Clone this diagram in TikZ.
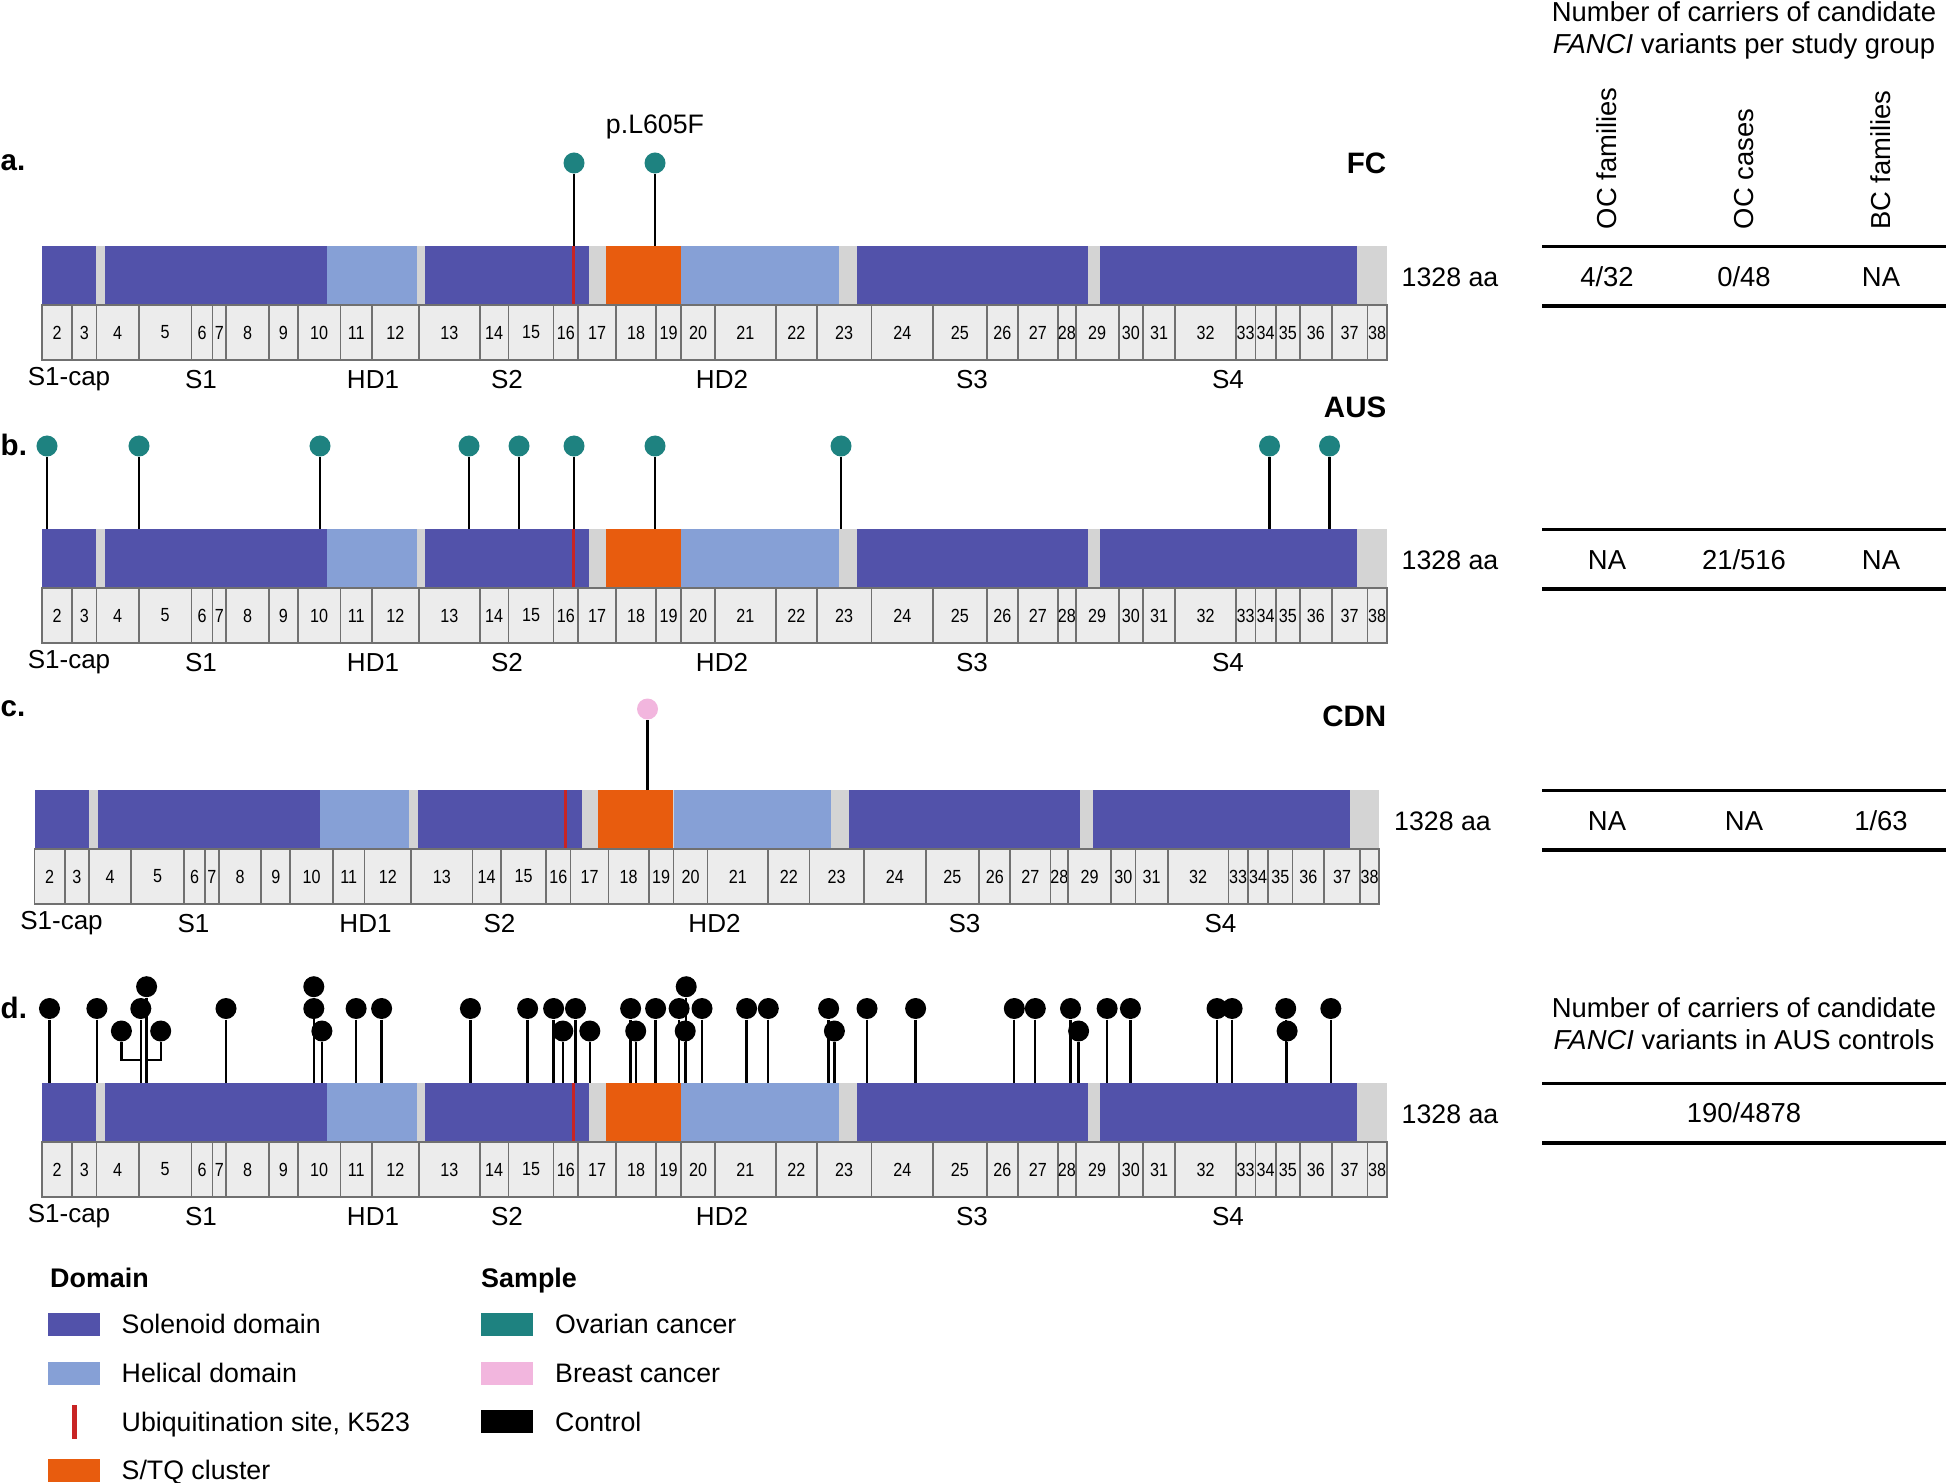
\documentclass[tikz,border=0pt]{standalone}
\usepackage{fontspec}
\setmainfont{Liberation Sans}
\newfontfamily\exonfont[FakeStretch=0.85]{Liberation Sans}
\definecolor{solcol}{RGB}{82,82,170}
\definecolor{helcol}{RGB}{134,160,214}
\definecolor{stqcol}{RGB}{232,92,14}
\definecolor{gapcol}{RGB}{212,212,212}
\definecolor{ubqcol}{RGB}{200,36,36}
\definecolor{exonfill}{RGB}{236,236,236}
\definecolor{exonedge}{RGB}{112,112,112}
\definecolor{ovcol}{RGB}{30,130,128}
\definecolor{bccol}{RGB}{242,182,222}
\begin{document}
\begin{tikzpicture}[x=0.01cm, y=-0.01cm,
  font=\fontsize{7.6}{9}\selectfont,
  solenoid/.style={fill=solcol},
  helical/.style={fill=helcol},
  spacer/.style={fill=gapcol},
  stq/.style={fill=stqcol},
  ubq/.style={draw=ubqcol, line width=0.8pt},
  exonbox/.style={draw=exonedge, fill=exonfill, line width=0.5pt},
  exonnum/.style={inner sep=0pt, font=\exonfont\fontsize{5.4}{6}\selectfont},
  domlabel/.style={inner sep=0pt, font=\fontsize{7.4}{9}\selectfont},
  panellab/.style={inner sep=0pt, font=\bfseries\fontsize{8.4}{10}\selectfont},
  legtitle/.style={inner sep=0pt, anchor=base west, font=\bfseries\fontsize{7.65}{9}\selectfont},
  legtext/.style={inner sep=0pt, anchor=base west},
  tabtext/.style={inner sep=0pt, font=\fontsize{7.8}{9}\selectfont},
  tabline/.style={line width=0.9pt},
  stem/.style={line width=0.65pt},
  head/.style={circle, inner sep=0pt, minimum size=0.21cm},
  ochead/.style={head, fill=ovcol},
  bchead/.style={head, fill=bccol},
  ctrlhead/.style={head, fill=black}]
\useasboundingbox (0,0) rectangle (1946,1482);

% Protein tracks, one per study group
\foreach \p/\dx/\dy in {a/0/0, b/0/283, c/-7.5/544, d/0/837} {
  \begin{scope}[shift={(\dx,\dy)}]
    % domains
    \fill[spacer] (42,246) rectangle (1386.6,305);
    \foreach \l/\r in {42/96, 105/327, 425.4/589.3, 856.6/1087.6, 1100/1357}
      \fill[solenoid] (\l,246) rectangle (\r,305);
    \foreach \l/\r in {327/416.5, 681/838.5}
      \fill[helical] (\l,246) rectangle (\r,305);
    \fill[stq] (605.8,246) rectangle (680.8,305);
    \draw[ubq] (573.2,246) -- (573.2,305);
    % exons
    \foreach \n/\l/\r in {2/42/72.3, 3/72.3/96.4, 4/96.4/138.8, 5/138.8/191.5,
        6/191.5/212.5, 7/212.5/226.3, 8/226.3/268.8, 9/268.8/297.8,
        10/297.8/340.6, 11/340.6/371.9, 12/371.9/418.8, 13/418.8/479.9,
        14/479.9/508.5, 15/508.5/553.6, 16/553.6/578.1, 17/578.1/616.1,
        18/616.1/656.3, 19/656.3/681, 20/681/715, 21/715/775.8,
        22/775.8/816.9, 23/816.9/871.5, 24/871.5/933.2, 25/933.2/986.7,
        26/986.7/1017.8, 27/1017.8/1058, 28/1058/1075.7, 29/1075.7/1118.7,
        30/1118.7/1143.1, 31/1143.1/1175.2, 32/1175.2/1235.9, 33/1235.9/1255.5,
        34/1255.5/1275.6, 35/1275.6/1300, 36/1300/1331.6, 37/1331.6/1367.5,
        38/1367.5/1386.6} {
      \draw[exonbox] (\l,305) rectangle (\r,360);
      \node[exonnum] (\p-ex\n) at ({(\l+\r)/2},332.5) {\n};
    }
    % domain names
    \foreach \lab/\x in {S1-cap/69, S1/201, HD1/373, S2/507, HD2/722, S3/972, S4/1228}
      \node[domlabel] (\p-\lab) at (\x,379.5) {\lab};
    \node[anchor=west, inner sep=0pt] (\p-len) at (1401,277) {1328 aa};
  \end{scope}
  % table rules
  \begin{scope}[shift={(0,\dy)}]
    \draw[tabline] (1542,246.5) -- (1946,246.5);
    \draw[tabline] (1542,306) -- (1946,306);
  \end{scope}
}

% Panel letters and study groups
\node[panellab, anchor=west] (lab-a) at (0,163) {a.};
\node[panellab, anchor=west] (lab-b) at (0,445) {b.};
\node[panellab, anchor=west] (lab-c) at (0,709) {c.};
\node[panellab, anchor=west] (lab-d) at (0,1008) {d.};
\node[panellab, anchor=east] (grp-a) at (1387,163) {FC};
\node[panellab, anchor=east] (grp-b) at (1387,407) {AUS};
\node[panellab, anchor=east] (grp-c) at (1387,716) {CDN};

% a. FC variants
\foreach \x [count=\i] in {574,655} {
  \node[ochead] (a-h\i) at (\x,163) {};
  \coordinate (a-s\i) at (\x,246);
  \draw[stem] (a-h\i) -- (a-s\i);
}
\node[anchor=base, inner sep=0pt] (a-var) at (655,134) {p.L605F};

% b. AUS variants
\foreach \x [count=\i] in {47,139,320,469,519,574,655,841,1269.5,1329.5} {
  \node[ochead] (b-h\i) at (\x,446) {};
  \coordinate (b-s\i) at (\x,529);
  \draw[stem] (b-h\i) -- (b-s\i);
}

% c. CDN variant
\node[bchead] (c-h1) at (647.5,709) {};
\coordinate (c-s1) at (647.5,790);
\draw[stem] (c-h1) -- (c-s1);

% d. AUS controls, three rows of heads
\foreach \x [count=\i] in {146.6,313.8,686.2} {
  \node[ctrlhead] (d0-h\i) at (\x,986.7) {};
  \coordinate (d0-s\i) at (\x,1083);
  \draw[stem] (d0-h\i) -- (d0-s\i);
}
\foreach \x [count=\i] in {49.5,96.9,140.8,226,313.8,356.1,381.6,470.4,527.6,
    553.6,575.5,630.6,655.6,679.1,702,746.6,768.3,828.6,867,915.6,1014.3,
    1035.3,1070.5,1107.1,1130.4,1217,1232.1,1285.7,1330.8} {
  \node[ctrlhead] (d1-h\i) at (\x,1008.5) {};
  \coordinate (d1-s\i) at (\x,1083);
  \draw[stem] (d1-h\i) -- (d1-s\i);
}
\foreach \x [count=\i] in {321.9,562.8,589.8,635.7,685.2,834.4,1078.6,1287.1} {
  \node[ctrlhead] (d2-h\i) at (\x,1031) {};
  \coordinate (d2-s\i) at (\x,1083);
  \draw[stem] (d2-h\i) -- (d2-s\i);
}
% two heads joined to the stems near exon 4
\node[ctrlhead] (d2-l) at (121.4,1031) {};
\node[ctrlhead] (d2-r) at (160.7,1031) {};
\coordinate (d2-jl) at (140.8,1060);
\coordinate (d2-jr) at (146.6,1060);
\draw[stem] (d2-l) |- (d2-jl);
\draw[stem] (d2-r) |- (d2-jr);

% Carrier table
\node[tabtext, anchor=base] (tab-t1) at (1744,22) {Number of carriers of candidate};
\node[tabtext, anchor=base] (tab-t2) at (1744,54) {\textit{FANCI} variants per study group};
\foreach \lab/\x in {OC families/1607, OC cases/1744, BC families/1881}
  \node[tabtext, rotate=90, anchor=west] (tab-\x) at (\x,230) {\lab};
\node[tabtext] (val-a1) at (1607,277) {4/32};
\node[tabtext] (val-a2) at (1744,277) {0/48};
\node[tabtext] (val-a3) at (1881,277) {NA};
\node[tabtext] (val-b1) at (1607,560) {NA};
\node[tabtext] (val-b2) at (1744,560) {21/516};
\node[tabtext] (val-b3) at (1881,560) {NA};
\node[tabtext] (val-c1) at (1607,821) {NA};
\node[tabtext] (val-c2) at (1744,821) {NA};
\node[tabtext] (val-c3) at (1881,821) {1/63};
\node[tabtext, anchor=base] (tab-t3) at (1744,1017.5) {Number of carriers of candidate};
\node[tabtext, anchor=base] (tab-t4) at (1744,1049.5) {\textit{FANCI} variants in AUS controls};
\node[tabtext] (val-d1) at (1744,1113) {190/4878};

% Legend
\node[legtitle] (leg-dom) at (49.5,1287) {Domain};
\fill[solenoid] (48,1313) rectangle (100,1336);
\fill[helical] (48,1362) rectangle (100,1385);
\fill[ubqcol] (71.5,1405) rectangle (76.5,1439);
\fill[stq] (48,1459) rectangle (100,1482);
\node[legtext] (leg-sol) at (121,1333) {Solenoid domain};
\node[legtext] (leg-hel) at (121,1382) {Helical domain};
\node[legtext] (leg-ubq) at (121,1431) {Ubiquitination site, K523};
\node[legtext] (leg-stq) at (121,1479.5) {S/TQ cluster};
\node[legtitle] (leg-smp) at (480.5,1287) {Sample};
\fill[ovcol] (481,1313) rectangle (533,1336);
\fill[bccol] (481,1362) rectangle (533,1385);
\fill[black] (481,1410) rectangle (533,1433);
\node[legtext] (leg-ov) at (554.5,1333) {Ovarian cancer};
\node[legtext] (leg-bc) at (554.5,1382) {Breast cancer};
\node[legtext] (leg-ctl) at (554.5,1431) {Control};
\end{tikzpicture}
\end{document}
